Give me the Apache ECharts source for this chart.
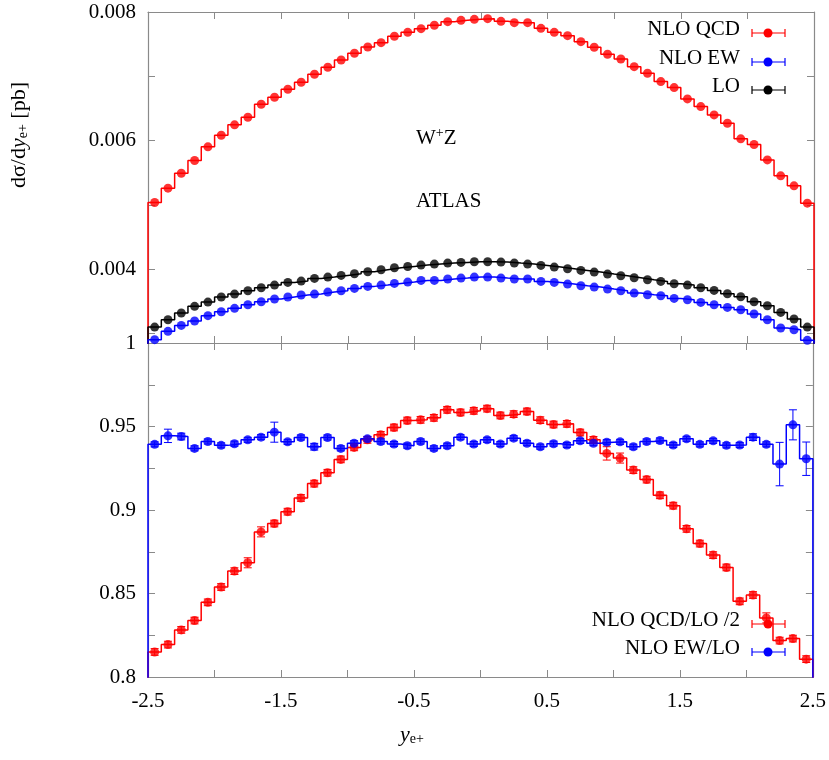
<!DOCTYPE html>
<html>
<head>
<meta charset="UTF-8">
<script src="https://cdn.jsdelivr.net/npm/echarts@6/dist/echarts.min.js"></script>
<style>
  body { margin: 0; background: #fff; }
  #chart { width: 829px; height: 760px; }
</style>
</head>
<body>
<div id="chart"></div>
<script>
// bin centres of y_e+ (bin width 0.1)
var binCenters = [-2.45,-2.35,-2.25,-2.15,-2.05,-1.95,-1.85,-1.75,-1.65,-1.55,-1.45,-1.35,-1.25,-1.15,-1.05,-0.95,-0.85,-0.75,-0.65,-0.55,-0.45,-0.35,-0.25,-0.15,-0.05,
                  0.05,0.15,0.25,0.35,0.45,0.55,0.65,0.75,0.85,0.95,1.05,1.15,1.25,1.35,1.45,1.55,1.65,1.75,1.85,1.95,2.05,2.15,2.25,2.35,2.45];

// top panel: dsigma/dy [pb]
var nloQcd = [0.005036,0.005259,0.005492,0.005689,0.005902,0.006083,0.006244,0.006363,0.006565,0.006674,0.006798,0.006907,0.007031,0.007140,0.007254,0.007358,0.007456,0.007523,0.007622,0.007684,0.007741,0.007793,0.007850,0.007870,0.007886,
              0.007896,0.007855,0.007834,0.007834,0.007746,0.007684,0.007632,0.007539,0.007451,0.007342,0.007269,0.007150,0.007047,0.006917,0.006824,0.006648,0.006528,0.006399,0.006269,0.006026,0.005938,0.005699,0.005451,0.005295,0.005026];
var nloEw = [0.002902,0.003031,0.003124,0.003192,0.003275,0.003337,0.003389,0.003446,0.003492,0.003534,0.003565,0.003596,0.003611,0.003642,0.003663,0.003699,0.003731,0.003751,0.003777,0.003798,0.003824,0.003824,0.003845,0.003860,0.003876,
             0.003876,0.003860,0.003845,0.003845,0.003808,0.003793,0.003767,0.003741,0.003720,0.003689,0.003663,0.003627,0.003601,0.003585,0.003544,0.003523,0.003482,0.003446,0.003404,0.003368,0.003301,0.003212,0.003083,0.003057,0.002891];
var lo = [0.003098,0.003212,0.003316,0.003420,0.003487,0.003565,0.003611,0.003663,0.003710,0.003751,0.003793,0.003813,0.003855,0.003876,0.003902,0.003927,0.003959,0.003990,0.004021,0.004041,0.004062,0.004078,0.004093,0.004104,0.004114,
          0.004114,0.004109,0.004093,0.004078,0.004057,0.004031,0.004005,0.003979,0.003953,0.003922,0.003896,0.003865,0.003834,0.003808,0.003772,0.003751,0.003710,0.003668,0.003617,0.003570,0.003492,0.003430,0.003326,0.003223,0.003098];

// bottom panel: ratios
var qcdRatio = [0.8150,0.8194,0.8282,0.8338,0.8447,0.8539,0.8634,0.8684,0.8869,0.8919,0.8990,0.9072,0.9158,0.9223,0.9303,0.9375,0.9420,0.9450,0.9494,0.9536,0.9540,0.9552,0.9600,0.9584,0.9594,
                0.9607,0.9566,0.9574,0.9590,0.9538,0.9512,0.9516,0.9464,0.9420,0.9339,0.9311,0.9239,0.9182,0.9088,0.9026,0.8887,0.8799,0.8730,0.8656,0.8453,0.8491,0.8354,0.8218,0.8230,0.8107];
var qcdRatioErr = [0.002,0.002,0.002,0.002,0.002,0.002,0.002,0.003,0.003,0.002,0.002,0.002,0.002,0.002,0.002,0.002,0.002,0.002,0.002,0.002,0.002,0.002,0.002,0.002,0.002,
                   0.002,0.002,0.002,0.002,0.002,0.002,0.002,0.002,0.002,0.004,0.003,0.002,0.002,0.002,0.002,0.002,0.002,0.002,0.002,0.002,0.002,0.003,0.002,0.002,0.002];
var ewRatio = [0.9393,0.9444,0.9440,0.9369,0.9410,0.9387,0.9397,0.9420,0.9436,0.9466,0.9408,0.9434,0.9379,0.9434,0.9369,0.9400,0.9426,0.9410,0.9395,0.9385,0.9410,0.9369,0.9385,0.9436,0.9395,
               0.9420,0.9395,0.9430,0.9400,0.9379,0.9397,0.9389,0.9414,0.9400,0.9406,0.9408,0.9379,0.9410,0.9416,0.9389,0.9426,0.9393,0.9414,0.9387,0.9389,0.9436,0.9393,0.9275,0.9510,0.9307];
var ewRatioErr = [0.0015,0.004,0.002,0.0015,0.0015,0.0015,0.0015,0.0015,0.0015,0.006,0.0015,0.0015,0.002,0.0015,0.0015,0.0015,0.0015,0.0015,0.0015,0.0015,0.0015,0.0015,0.0015,0.0015,0.0015,
                  0.0015,0.0015,0.0015,0.0015,0.0015,0.0015,0.0015,0.0015,0.0015,0.0015,0.0015,0.0015,0.0015,0.0015,0.0015,0.0015,0.0015,0.0015,0.0015,0.0015,0.002,0.0015,0.013,0.009,0.010];

var FONT = 'Liberation Serif';
var RED = '#ff0000', BLUE = '#0000ff', BLACK = '#000000', FRAME = '#8a8a8a';

// histogram steps: left edge of each bin, closing edge at 2.5, dropped to 0 at both ends
function steps(vals) {
  var pts = [[binCenters[0] - 0.05, 0]];
  vals.forEach(function (v, i) { pts.push([binCenters[i] - 0.05, v]); });
  pts.push([binCenters[vals.length - 1] + 0.05, vals[vals.length - 1]]);
  pts.push([binCenters[vals.length - 1] + 0.05, 0]);
  return pts;
}
function pts(vals) { return vals.map(function (v, i) { return [binCenters[i], v]; }); }

function stepSeries(vals, color, xi, yi) {
  return { type: 'line', step: 'end', data: steps(vals), xAxisIndex: xi, yAxisIndex: yi,
           symbol: 'none', lineStyle: { color: color, width: 1.5 }, clip: true, silent: true, z: 2 };
}
function dotSeries(vals, color, xi, yi) {
  return { type: 'scatter', data: pts(vals), xAxisIndex: xi, yAxisIndex: yi,
           symbolSize: 9, itemStyle: { color: color }, z: 4 };
}
function errSeries(vals, errs, color) {
  return {
    type: 'custom', xAxisIndex: 2, yAxisIndex: 2, z: 3,
    data: vals.map(function (v, i) { return [binCenters[i], v - errs[i], v + errs[i]]; }),
    renderItem: function (params, api) {
      var lo = api.coord([api.value(0), api.value(1)]);
      var hi = api.coord([api.value(0), api.value(2)]);
      var style = { stroke: color, lineWidth: 1 };
      return { type: 'group', children: [
        { type: 'line', shape: { x1: lo[0], y1: lo[1], x2: hi[0], y2: hi[1] }, style: style },
        { type: 'line', shape: { x1: lo[0] - 4, y1: lo[1], x2: lo[0] + 4, y2: lo[1] }, style: style },
        { type: 'line', shape: { x1: hi[0] - 4, y1: hi[1], x2: hi[0] + 4, y2: hi[1] }, style: style }
      ]};
    }
  };
}

var tick = { show: true, inside: true, length: 7, lineStyle: { color: FRAME } };
var line = { show: true, onZero: false, lineStyle: { color: FRAME, width: 1.2 } };
var lbl = { color: '#000', fontFamily: FONT, fontSize: 21 };

function xAx(grid, pos, labels) {
  return { type: 'value', gridIndex: grid, position: pos, min: -2.5, max: 2.5, interval: 0.5,
           axisLine: line, axisTick: tick, splitLine: { show: false },
           axisLabel: labels ? Object.assign({ margin: 14, formatter: function (v) {
             return Math.abs(Math.round(v * 2)) % 2 === 1 ? String(v) : ''; } }, lbl) : { show: false } };
}

function legendItem(text, y, color) {
  return [
    { type: 'text', right: 829 - 740, top: y - 14, style: { text: text, fill: '#000', font: '21px "' + FONT + '"', textAlign: 'right' } },
    { type: 'line', shape: { x1: 752, y1: y, x2: 785, y2: y }, style: { stroke: color, lineWidth: 1.2 } },
    { type: 'line', shape: { x1: 752, y1: y - 4, x2: 752, y2: y + 4 }, style: { stroke: color, lineWidth: 1.2 } },
    { type: 'line', shape: { x1: 785, y1: y - 4, x2: 785, y2: y + 4 }, style: { stroke: color, lineWidth: 1.2 } },
    { type: 'circle', shape: { cx: 768, cy: y, r: 4.5 }, style: { fill: color } }
  ];
}

var chart = echarts.init(document.getElementById('chart'));
chart.setOption({
  animation: false,
  textStyle: { fontFamily: FONT },
  grid: [
    { left: 148, right: 15, top: 12, height: 331 },
    { left: 148, right: 15, top: 343, height: 334 }
  ],
  xAxis: [ xAx(0, 'bottom', false), xAx(0, 'top', false), xAx(1, 'bottom', true), xAx(1, 'top', false) ],
  yAxis: [
    { type: 'value', gridIndex: 0, position: 'left', min: 0.00285, max: 0.008,
      axisLine: line, splitLine: { show: false },
      axisTick: Object.assign({ customValues: [0.003, 0.004, 0.005, 0.006, 0.007, 0.008] }, tick),
      axisLabel: Object.assign({ margin: 12, customValues: [0.004, 0.006, 0.008],
        formatter: function (v) { return v.toFixed(3); } }, lbl) },
    { type: 'value', gridIndex: 0, position: 'right', min: 0.00285, max: 0.008,
      axisLine: line, splitLine: { show: false }, axisLabel: { show: false },
      axisTick: Object.assign({ customValues: [0.003, 0.004, 0.005, 0.006, 0.007, 0.008] }, tick) },
    { type: 'value', gridIndex: 1, position: 'left', min: 0.8, max: 1, interval: 0.025,
      axisLine: line, splitLine: { show: false }, axisTick: tick,
      axisLabel: Object.assign({ margin: 12, formatter: function (v) {
        var k = Math.round(v * 1000); return k % 50 === 0 ? String(k / 1000) : ''; } }, lbl) },
    { type: 'value', gridIndex: 1, position: 'right', min: 0.8, max: 1, interval: 0.025,
      axisLine: line, splitLine: { show: false }, axisTick: tick, axisLabel: { show: false } }
  ],
  series: [
    stepSeries(nloQcd, RED, 0, 0), stepSeries(lo, BLACK, 0, 0), stepSeries(nloEw, BLUE, 0, 0),
    dotSeries(nloQcd, RED, 0, 0), dotSeries(lo, BLACK, 0, 0), dotSeries(nloEw, BLUE, 0, 0),
    stepSeries(qcdRatio, RED, 2, 2), stepSeries(ewRatio, BLUE, 2, 2),
    errSeries(qcdRatio, qcdRatioErr, RED), errSeries(ewRatio, ewRatioErr, BLUE),
    dotSeries(qcdRatio, RED, 2, 2), dotSeries(ewRatio, BLUE, 2, 2)
  ],
  graphic: [].concat(
    legendItem('NLO QCD', 33, RED),
    legendItem('NLO EW', 62, BLUE),
    legendItem('LO', 90, BLACK),
    legendItem('NLO QCD/LO /2', 624, RED),
    legendItem('NLO EW/LO', 652, BLUE),
    [
      { type: 'text', left: 416, top: 126, style: { text: 'W{s|+}Z', fill: '#000', font: '21px "' + FONT + '"',
        rich: { s: { fontSize: 14, verticalAlign: 'top', padding: [0, 0, 10, 0], fontFamily: FONT } } } },
      { type: 'text', left: 416, top: 191, style: { text: 'ATLAS', fill: '#000', font: '21px "' + FONT + '"' } },
      { type: 'text', left: 8, top: 82, rotation: Math.PI / 2,
        style: { text: 'dσ/d{i|y}{s|e+} [pb]', fill: '#000', font: '22px "' + FONT + '"',
          rich: { i: { fontStyle: 'italic', fontSize: 22, fontFamily: FONT }, s: { fontSize: 14, padding: [8, 0, 0, 0], fontFamily: FONT } } } },
      { type: 'text', left: 400, top: 724, style: { text: '{i|y}{s|e+}', fill: '#000', font: '22px "' + FONT + '"',
          rich: { i: { fontStyle: 'italic', fontSize: 22, fontFamily: FONT }, s: { fontSize: 14, padding: [8, 0, 0, 0], fontFamily: FONT } } } }
    ]
  )
});
</script>
</body>
</html>
